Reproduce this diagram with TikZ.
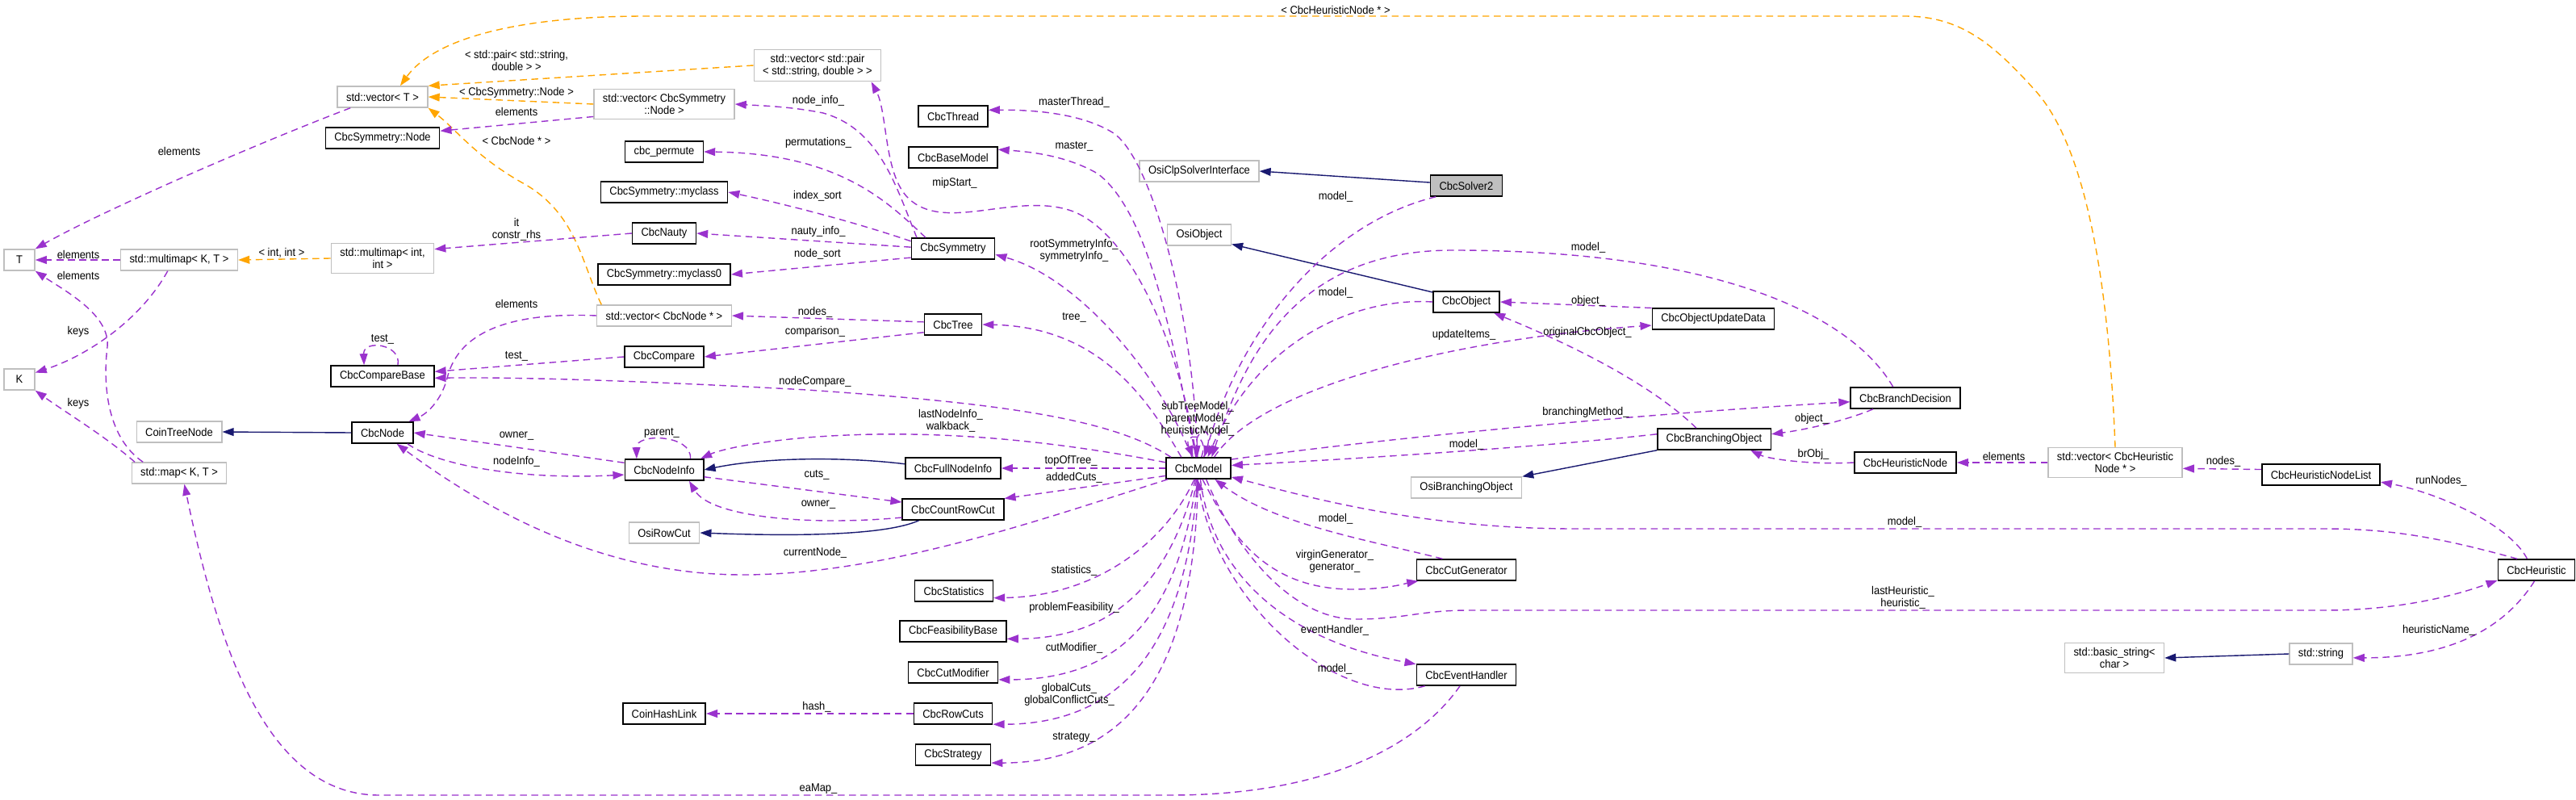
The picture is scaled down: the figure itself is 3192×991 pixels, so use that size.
\documentclass[tikz,border=0pt]{standalone}
\usepackage{fontspec}
\setmainfont{Liberation Sans}[FakeStretch=0.92]
\usepackage{tikz}
\usetikzlibrary{arrows.meta}
\definecolor{orchid}{HTML}{9A32CD}
\definecolor{tmplorange}{HTML}{FFA500}
\definecolor{midnight}{HTML}{191970}
\definecolor{grey75}{HTML}{BFBFBF}

\begin{document}
\begin{tikzpicture}[x=0.025cm,y=-0.025cm,
  cls/.style={draw=black,line width=1.1pt,fill=white,minimum height=0.65cm,inner xsep=7.8pt,
              inner ysep=4pt,align=center,font=\fontsize{10}{10.7}\selectfont},
  ext/.style={cls,draw=grey75,line width=1pt},
  lbl/.style={align=center,inner sep=0pt,font=\fontsize{10}{10.7}\selectfont},
  usedge/.style={orchid,line width=1pt,dash pattern=on 6pt off 4pt,-{Triangle[length=10pt,width=7pt]}},
  tmpl/.style={usedge,tmplorange},
  inh/.style={midnight,line width=1pt,-{Triangle[length=10pt,width=7pt]}}
]
\useasboundingbox (0,0) rectangle (3192,991);

% classes, left to right
\node[ext] (vecT) at (474,120) {std::vector< T >};
\node[cls] (symNode) at (474,171) {CbcSymmetry::Node};
\node[ext,minimum width=0.95cm] (tT) at (24,322) {T};
\node[ext] (mmKT) at (222,322) {std::multimap< K, T >};
\node[ext] (mmInt) at (474,320) {std::multimap< int,\\int >};
\node[ext,minimum width=0.95cm] (kK) at (24,470) {K};
\node[cls] (cmpBase) at (474,466) {CbcCompareBase};
\node[ext] (coinTree) at (222,535) {CoinTreeNode};
\node[cls] (cbcNode) at (474,536) {CbcNode};
\node[ext] (mapKT) at (222,586) {std::map< K, T >};

\node[ext] (vecSymNode) at (823,129) {std::vector< CbcSymmetry\\::Node >};
\node[cls] (permute) at (823,188) {cbc\_permute};
\node[cls] (myclass) at (823,238) {CbcSymmetry::myclass};
\node[cls] (nauty) at (823,289) {CbcNauty};
\node[cls] (myclass0) at (823,340) {CbcSymmetry::myclass0};
\node[ext] (vecNode) at (823,391) {std::vector< CbcNode * >};
\node[cls] (cmp) at (823,442) {CbcCompare};
\node[cls] (nodeInfo) at (823,582) {CbcNodeInfo};
\node[ext] (osiRowCut) at (823,660) {OsiRowCut};
\node[cls] (hashLink) at (823,884) {CoinHashLink};

\node[ext] (vecPair) at (1013,81) {std::vector< std::pair\\< std::string, double > >};
\node[cls] (thread) at (1181,144) {CbcThread};
\node[cls] (baseModel) at (1181,195) {CbcBaseModel};
\node[cls] (sym) at (1181,308) {CbcSymmetry};
\node[cls] (tree) at (1181,402) {CbcTree};
\node[cls] (fullInfo) at (1181,580) {CbcFullNodeInfo};
\node[cls] (countCut) at (1181,631) {CbcCountRowCut};
\node[cls] (stats) at (1182,732) {CbcStatistics};
\node[cls] (feas) at (1181,782) {CbcFeasibilityBase};
\node[cls] (cutMod) at (1181,833) {CbcCutModifier};
\node[cls] (rowCuts) at (1181,884) {CbcRowCuts};
\node[cls] (strategy) at (1181,935) {CbcStrategy};

\node[ext] (osiClp) at (1486,212) {OsiClpSolverInterface};
\node[ext] (osiObj) at (1486,291) {OsiObject};
\node[cls] (model) at (1485,580) {CbcModel};

\node[cls,fill=grey75] (solver2) at (1817,230) {CbcSolver2};
\node[cls] (object) at (1817,374) {CbcObject};
\node[ext] (osiBrObj) at (1817,604) {OsiBranchingObject};
\node[cls] (cutGen) at (1817,706) {CbcCutGenerator};
\node[cls] (eventH) at (1817,836) {CbcEventHandler};
\node[cls] (updData) at (2123,395) {CbcObjectUpdateData};
\node[cls] (brObj) at (2124,544) {CbcBranchingObject};
\node[cls] (brDec) at (2361,493) {CbcBranchDecision};
\node[cls] (heurNode) at (2361,573) {CbcHeuristicNode};
\node[ext] (vecHeur) at (2621,573) {std::vector< CbcHeuristic\\Node * >};
\node[ext] (basicStr) at (2620,815) {std::basic\_string<\\char >};
\node[cls] (heurList) at (2876,588) {CbcHeuristicNodeList};
\node[ext] (stdStr) at (2876,810) {std::string};
\node[cls] (heur) at (3143,706) {CbcHeuristic};

% template instances
\draw[tmpl] (vecPair.west) -- (vecT.north east);
\draw[tmpl] (vecSymNode.west) -- (vecT.east);
\draw[tmpl] (vecNode.170) .. controls (722,330) and (715,265) .. (650,228) .. controls (590,195) and (565,160) .. (vecT.south east);
\draw[tmpl] (vecHeur.north) .. controls (2615,400) and (2595,190) .. (2520,110) .. controls (2470,55) and (2430,20) .. (2360,20) -- (800,20) .. controls (650,20) and (540,45) .. (vecT.32);
\draw[tmpl] (mmInt.west) -- (mmKT.east);

% inheritance
\draw[inh] (cbcNode.west) -- (coinTree.east);
\draw[inh] (fullInfo.175) .. controls (1050,566) and (950,566) .. (nodeInfo.east);
\draw[inh] (countCut.198) .. controls (1100,662) and (1000,665) .. (osiRowCut.east);
\draw[inh] (solver2.175) -- (osiClp.east);
\draw[inh] (object.164) -- (osiObj.-16);
\draw[inh] (brObj.191) -- (osiBrObj.north east);
\draw[inh] (stdStr.west) -- (basicStr.east);

% members
\draw[usedge] (vecT.199) .. controls (300,185) and (120,265) .. (tT.north east);
\draw[usedge] (mmKT.west) -- (tT.east);
\draw[usedge] (mapKT.163) .. controls (130,540) and (128,470) .. (133,430) .. controls (137,390) and (80,360) .. (tT.south east);
\draw[usedge] (mmKT.224) .. controls (175,395) and (110,440) .. (kK.23);
\draw[usedge] (mapKT.166) .. controls (130,540) and (80,510) .. (kK.south east);
\draw[usedge] (vecSymNode.190) -- (symNode.7);
\draw[usedge] (nauty.west) -- (mmInt.10);
\draw[usedge] (vecNode.west) .. controls (600,385) and (565,430) .. (555,465) .. controls (548,495) and (530,512) .. (cbcNode.23);
\draw[usedge] (cmpBase.36) .. controls (498,426) and (450,420) .. (cmpBase.149);
\draw[usedge] (cmp.west) -- (cmpBase.5);
\draw[usedge] (model.158) .. controls (1380,520) and (1250,500) .. (1000,483) .. controls (800,472) and (650,467) .. (cmpBase.-2);
\draw[usedge] (nodeInfo.170) -- (cbcNode.east);
\draw[usedge] (cbcNode.-24) .. controls (540,575) and (640,595) .. (nodeInfo.187);
\draw[usedge] (nodeInfo.23) .. controls (858,538) and (788,536) .. (nodeInfo.158);
\draw[usedge] (model.200) .. controls (1300,640) and (1100,712) .. (920,712) .. controls (780,712) and (640,660) .. (cbcNode.-38);
\draw[usedge] (model.170) .. controls (1300,545) and (1150,530) .. (1000,542) .. controls (930,548) and (890,558) .. (nodeInfo.17);
\draw[usedge] (model.west) -- (fullInfo.east);
\draw[usedge] (nodeInfo.-10) -- (countCut.172);
\draw[usedge] (countCut.189) .. controls (1000,652) and (880,640) .. (nodeInfo.-24);
\draw[usedge] (model.193) -- (countCut.12);
\draw[usedge] (tree.175) -- (vecNode.east);
\draw[usedge] (tree.195) -- (cmp.east);
\draw[usedge] (model.147) .. controls (1420,490) and (1360,405) .. (tree.east);
\draw[usedge] (sym.163) .. controls (1110,230) and (1090,160) .. (1020,140) .. controls (980,132) and (945,131) .. (vecSymNode.east);
\draw[usedge] (model.100) .. controls (1460,420) and (1400,290) .. (1330,262) .. controls (1260,236) and (1170,290) .. (1125,245) .. controls (1095,215) and (1100,140) .. (vecPair.-17);
\draw[usedge] (sym.158) .. controls (1100,250) and (1040,190) .. (permute.east);
\draw[usedge] (sym.170) .. controls (1050,272) and (960,250) .. (myclass.east);
\draw[usedge] (sym.178) -- (nauty.east);
\draw[usedge] (sym.192) -- (myclass0.east);
\draw[usedge] (model.120) .. controls (1440,470) and (1340,345) .. (sym.-8);
\draw[usedge] (model.95) .. controls (1480,400) and (1430,200) .. (1380,165) .. controls (1340,140) and (1280,136) .. (thread.10);
\draw[usedge] (model.103) .. controls (1450,400) and (1420,260) .. (1360,215) .. controls (1320,192) and (1275,188) .. (baseModel.10);
\draw[usedge] (solver2.200) .. controls (1650,275) and (1540,400) .. (model.62);
\draw[usedge] (object.west) .. controls (1680,368) and (1560,420) .. (model.50);
\draw[usedge] (updData.170) -- (object.east);
\draw[usedge] (model.35) .. controls (1560,480) and (1800,420) .. (updData.186);
\draw[usedge] (brObj.148) .. controls (2040,470) and (1930,420) .. (object.-22);
\draw[usedge] (brDec.138) .. controls (2300,400) and (2150,310) .. (1800,310) .. controls (1600,310) and (1540,450) .. (model.40);
\draw[usedge] (model.15) .. controls (1700,545) and (2000,515) .. (brDec.184);
\draw[usedge] (brDec.199) .. controls (2290,520) and (2240,532) .. (brObj.5);
\draw[usedge] (brObj.175) .. controls (1900,555) and (1650,570) .. (model.5);
\draw[usedge] (heurNode.west) .. controls (2240,576) and (2190,568) .. (brObj.-17);
\draw[usedge] (vecHeur.west) -- (heurNode.east);
\draw[usedge] (heurList.175) -- (vecHeur.-5);
\draw[usedge] (heur.130) .. controls (3110,650) and (3020,610) .. (heurList.-7);
\draw[usedge] (heur.150) .. controls (3020,665) and (2960,655) .. (2880,655) -- (1950,655) .. controls (1750,655) and (1600,610) .. (model.-15);
\draw[usedge] (model.-55) .. controls (1530,680) and (1600,767) .. (1680,767) .. controls (1740,767) and (1760,756) .. (1820,756) -- (2880,756) .. controls (2980,756) and (3050,735) .. (heur.195);
\draw[usedge] (heur.-100) .. controls (3115,760) and (3060,815) .. (stdStr.-7);
\draw[usedge] (model.-70) .. controls (1520,650) and (1560,730) .. (1676,730) .. controls (1720,730) and (1745,722) .. (cutGen.193);
\draw[usedge] (cutGen.155) .. controls (1700,670) and (1580,650) .. (model.-34);
\draw[usedge] (model.-80) .. controls (1500,700) and (1580,790) .. (eventH.168);
\draw[usedge] (eventH.195) .. controls (1660,880) and (1510,750) .. (model.-95);
\draw[usedge] (eventH.-120) .. controls (1760,920) and (1650,985) .. (1450,985) -- (470,985) .. controls (330,985) and (270,800) .. (mapKT.-65);
\draw[usedge] (model.-110) .. controls (1440,680) and (1350,739) .. (stats.-10);
\draw[usedge] (model.-105) .. controls (1450,720) and (1380,791) .. (feas.-8);
\draw[usedge] (model.-100) .. controls (1460,760) and (1390,842) .. (cutMod.-9);
\draw[usedge] (model.-95) .. controls (1470,800) and (1390,897) .. (rowCuts.-15);
\draw[usedge] (model.-92) .. controls (1480,830) and (1400,945) .. (strategy.-12);
\draw[usedge] (rowCuts.west) -- (hashLink.east);
\draw[usedge] (model.75) .. controls (1500,535) and (1465,535) .. (model.115);
\draw[usedge] (model.65) .. controls (1510,525) and (1480,528) .. (model.95);

% edge labels
\node[lbl] (lPair) at (640,75) {< std::pair< std::string,\\double > >};
\node[lbl] (lSymNode) at (640,115) {< CbcSymmetry::Node >};
\node[lbl] (lCbcNode) at (640,174) {< CbcNode * >};
\node[lbl] (lHeurNode) at (1655,12) {< CbcHeuristicNode * >};
\node[lbl] (lIntInt) at (349,313) {< int, int >};
\node[lbl] (lElemA) at (222,187) {elements};
\node[lbl] (lElemB) at (97,315) {elements};
\node[lbl] (lElemC) at (97,341) {elements};
\node[lbl] (lKeysA) at (97,411) {keys};
\node[lbl] (lKeysB) at (97,500) {keys};
\node[lbl] (lElemD) at (640,138) {elements};
\node[lbl] (lIt) at (640,284) {it\\constr\_rhs};
\node[lbl] (lElemE) at (640,376) {elements};
\node[lbl] (lTestSelf) at (474,420) {test\_};
\node[lbl] (lTest) at (640,441) {test\_};
\node[lbl] (lNodeCompare) at (1010,473) {nodeCompare\_};
\node[lbl] (lOwnerA) at (640,540) {owner\_};
\node[lbl] (lNodeInfo) at (640,572) {nodeInfo\_};
\node[lbl] (lParent) at (820,536) {parent\_};
\node[lbl] (lCurrentNode) at (1010,685) {currentNode\_};
\node[lbl] (lLastNodeInfo) at (1178,521) {lastNodeInfo\_\\walkback\_};
\node[lbl] (lTopOfTree) at (1327,571) {topOfTree\_};
\node[lbl] (lAddedCuts) at (1331,592) {addedCuts\_};
\node[lbl] (lCuts) at (1012,588) {cuts\_};
\node[lbl] (lOwnerB) at (1014,625) {owner\_};
\node[lbl] (lNodes) at (1010,387) {nodes\_};
\node[lbl] (lComparison) at (1010,411) {comparison\_};
\node[lbl] (lTree) at (1331,393) {tree\_};
\node[lbl] (lNodeInfoVec) at (1014,125) {node\_info\_};
\node[lbl] (lPermutations) at (1014,177) {permutations\_};
\node[lbl] (lMipStart) at (1183,227) {mipStart\_};
\node[lbl] (lIndexSort) at (1013,243) {index\_sort};
\node[lbl] (lNauty) at (1014,287) {nauty\_info\_};
\node[lbl] (lNodeSort) at (1013,315) {node\_sort};
\node[lbl] (lSymInfo) at (1331,310) {rootSymmetryInfo\_\\symmetryInfo\_};
\node[lbl] (lMasterThread) at (1331,127) {masterThread\_};
\node[lbl] (lMaster) at (1331,181) {master\_};
\node[lbl] (lModelA) at (1655,244) {model\_};
\node[lbl] (lModelB) at (1655,363) {model\_};
\node[lbl] (lObjectA) at (1968,373) {object\_};
\node[lbl] (lUpdateItems) at (1814,415) {updateItems\_};
\node[lbl] (lOrigObject) at (1967,412) {originalCbcObject\_};
\node[lbl] (lModelC) at (1968,307) {model\_};
\node[lbl] (lBranching) at (1965,511) {branchingMethod\_};
\node[lbl] (lObjectB) at (2245,519) {object\_};
\node[lbl] (lModelD) at (1817,551) {model\_};
\node[lbl] (lBrObj) at (2247,563) {brObj\_};
\node[lbl] (lElemF) at (2483,565) {elements};
\node[lbl] (lNodesB) at (2755,572) {nodes\_};
\node[lbl] (lRunNodes) at (3025,596) {runNodes\_};
\node[lbl] (lModelE) at (2360,647) {model\_};
\node[lbl] (lLastHeur) at (2358,740) {lastHeuristic\_\\heuristic\_};
\node[lbl] (lHeurName) at (3022,781) {heuristicName\_};
\node[lbl] (lVirgin) at (1654,695) {virginGenerator\_\\generator\_};
\node[lbl] (lModelF) at (1655,643) {model\_};
\node[lbl] (lEventHandler) at (1654,781) {eventHandler\_};
\node[lbl] (lModelG) at (1654,829) {model\_};
\node[lbl] (lEaMap) at (1014,977) {eaMap\_};
\node[lbl] (lStatistics) at (1331,707) {statistics\_};
\node[lbl] (lFeas) at (1331,753) {problemFeasibility\_};
\node[lbl] (lCutMod) at (1331,803) {cutModifier\_};
\node[lbl] (lGlobalCuts) at (1325,860) {globalCuts\_\\globalConflictCuts\_};
\node[lbl] (lStrategy) at (1331,913) {strategy\_};
\node[lbl] (lHash) at (1012,876) {hash\_};
\node[lbl] (lModelSelf) at (1484,519) {subTreeModel\_\\parentModel\_\\heuristicModel\_};
\end{tikzpicture}
\end{document}
